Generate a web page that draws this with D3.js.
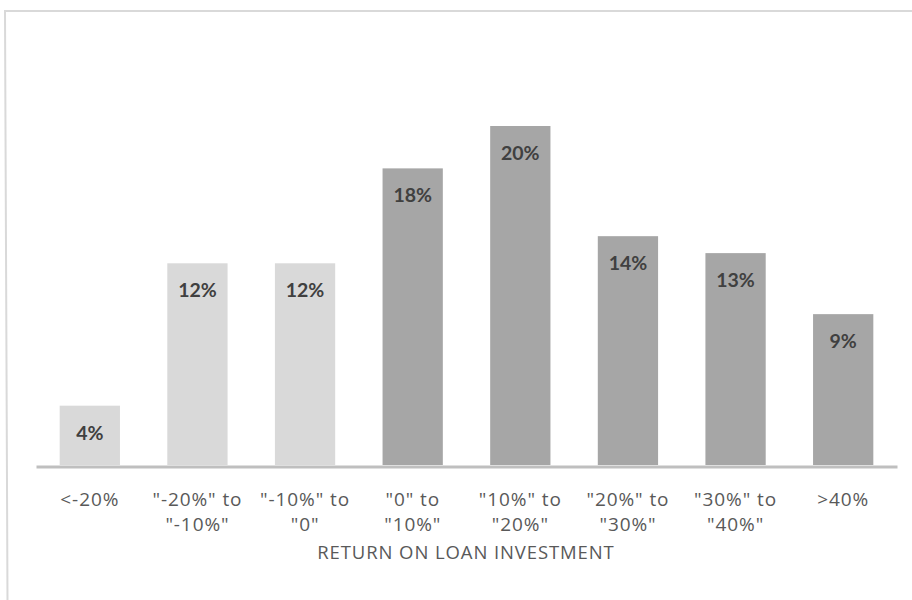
<!DOCTYPE html>
<html>
<head>
<meta charset="utf-8">
<script src="https://cdn.jsdelivr.net/npm/d3@7"></script>
<style>
  html, body { margin: 0; padding: 0; background: #fff; }
  svg { display: block; }
</style>
</head>
<body>
<svg id="chart" width="912" height="600"></svg>
<script>
// Return buckets on the x axis
const categories = ["<-20%", "-20..-10", "-10..0", "0..10", "10..20", "20..30", "30..40", ">40%"];
const tickLines = [
  ["<-20%"],
  ['"-20%" to', '"-10%"'],
  ['"-10%" to', '"0"'],
  ['"0" to', '"10%"'],
  ['"10%" to', '"20%"'],
  ['"20%" to', '"30%"'],
  ['"30%" to', '"40%"'],
  [">40%"]
];
// Share of loans in each bucket, percent
const shares = [3.5, 11.9, 11.9, 17.5, 20.0, 13.5, 12.5, 8.9];
// Negative-return buckets are shaded lighter
const groups = ["loss", "loss", "loss", "gain", "gain", "gain", "gain", "gain"];
const axisTitle = "RETURN ON LOAN INVESTMENT";

const svg = d3.select("#chart");

// chart frame
svg.append("path")
  .attr("d", "M913,11 L5,11 L7.5,601")
  .attr("fill", "none")
  .attr("stroke", "#d9d9d9")
  .attr("stroke-width", 2);

const baseY = 465;
const x = d3.scaleBand()
  .domain(categories)
  .range([36, 897])
  .paddingInner(0.44)
  .paddingOuter(0.22);

const y = d3.scaleLinear()
  .domain([0, 20])
  .range([baseY, 126]);

const color = d3.scaleOrdinal()
  .domain(["loss", "gain"])
  .range(["#d9d9d9", "#a6a6a6"]);

const rows = categories.map((c, i) => ({ c, v: shares[i], g: groups[i] }));

svg.append("g")
  .selectAll("rect")
  .data(rows)
  .join("rect")
  .attr("x", d => x(d.c))
  .attr("width", x.bandwidth())
  .attr("y", d => y(d.v))
  .attr("height", d => baseY - y(d.v))
  .attr("fill", d => color(d.g));

svg.append("g")
  .selectAll("text")
  .data(rows)
  .join("text")
  .attr("x", d => x(d.c) + x.bandwidth() / 2)
  .attr("y", d => y(d.v) + 34)
  .attr("text-anchor", "middle")
  .attr("font-family", "Lato, 'Open Sans', sans-serif")
  .attr("font-weight", "bold")
  .attr("font-size", 19.5)
  .attr("fill", "#404040")
  .text(d => Math.round(d.v) + "%");

// category axis
const axis = d3.axisBottom(x).tickSize(0).tickFormat("");
const gx = svg.append("g")
  .attr("transform", `translate(0,${baseY + 1.5})`)
  .call(axis);
gx.select(".domain")
  .attr("stroke", "#bfbfbf")
  .attr("stroke-width", 3);

gx.selectAll(".tick").each(function(d, i) {
  const t = d3.select(this).append("text")
    .attr("fill", "#595959")
    .attr("font-family", "'Open Sans', sans-serif")
    .attr("font-size", 19)
    .attr("letter-spacing", 0.9)
    .attr("text-anchor", "middle");
  tickLines[i].forEach((line, k) => {
    t.append("tspan")
      .attr("x", 0)
      .attr("y", 39 + k * 25.5)
      .text(line);
  });
});

svg.append("text")
  .attr("x", 466)
  .attr("y", 558.5)
  .attr("text-anchor", "middle")
  .attr("fill", "#595959")
  .attr("font-family", "'Open Sans', sans-serif")
  .attr("font-size", 18.5)
  .attr("letter-spacing", 0.9)
  .text(axisTitle);
</script>
</body>
</html>
